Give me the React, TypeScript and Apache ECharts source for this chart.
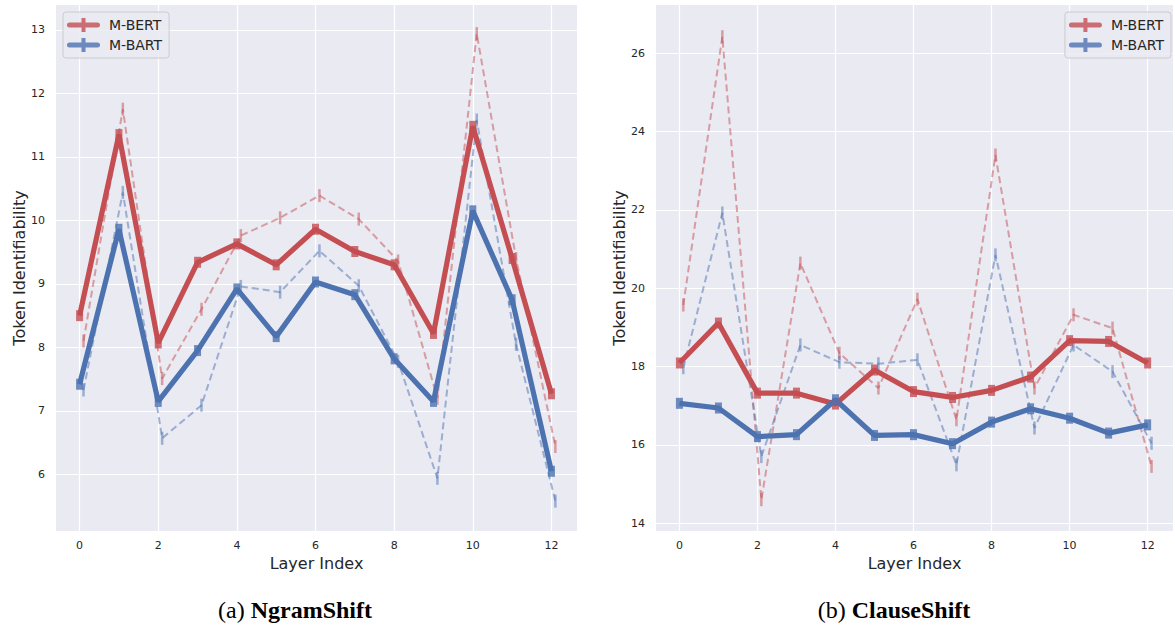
import React, { useEffect, useRef } from "react";
import * as echarts from "echarts";

// ---- data ----
const LAYERS = [0, 1, 2, 3, 4, 5, 6, 7, 8, 9, 10, 11, 12];
const X_TICKS = [0, 2, 4, 6, 8, 10, 12];
const NGRAM_Y_TICKS = [6, 7, 8, 9, 10, 11, 12, 13];
const CLAUSE_Y_TICKS = [14, 16, 18, 20, 22, 24, 26];
const DASH_OFFSET = 0.1;

// (a) NgramShift
const NGRAM_BERT = [8.5, 11.35, 8.07, 9.34, 9.63, 9.3, 9.86, 9.51, 9.3, 8.22, 11.48, 9.4, 7.27];
const NGRAM_BART = [7.42, 9.86, 7.15, 7.95, 8.92, 8.17, 9.03, 8.83, 7.82, 7.15, 10.15, 8.75, 6.05];
const NGRAM_BERT_DASH = [8.1, 11.75, 7.51, 8.6, 9.76, 10.04, 10.39, 10.02, 9.36, 7.2, 12.94, 9.4, 6.44];
const NGRAM_BART_DASH = [7.33, 10.44, 6.57, 7.09, 8.96, 8.87, 9.52, 8.97, 7.78, 5.94, 11.58, 8.05, 5.58];

// (b) ClauseShift
const CLAUSE_BERT = [18.09, 19.11, 17.32, 17.32, 17.04, 17.91, 17.36, 17.21, 17.39, 17.73, 18.66, 18.64, 18.09];
const CLAUSE_BART = [17.06, 16.94, 16.21, 16.26, 17.15, 16.24, 16.26, 16.03, 16.58, 16.92, 16.68, 16.3, 16.51];
const CLAUSE_BERT_DASH = [19.57, 26.42, 14.6, 20.64, 18.34, 17.45, 19.72, 16.64, 23.4, 17.45, 19.32, 18.98, 15.45];
const CLAUSE_BART_DASH = [17.97, 21.92, 15.7, 18.55, 18.11, 18.07, 18.17, 15.49, 20.85, 16.43, 18.55, 17.87, 16.04];

const RED = "#C44E52";
const BLUE = "#4C72B0";
const TEXT = "#262626";
const FONT = "DejaVu Sans";

function pts(vals: number[], off: number) {
  return LAYERS.map((l, i) => [l + off, vals[i]]);
}

function solidSeries(name: string, color: string, vals: number[], gi: number) {
  return {
    type: "line",
    name,
    xAxisIndex: gi,
    yAxisIndex: gi,
    data: pts(vals, 0),
    z: 4,
    symbol: "rect",
    symbolSize: [7, 11],
    itemStyle: { color, opacity: 0.8 },
    lineStyle: { color, width: 5.2 },
    emphasis: { disabled: true },
  };
}

function dashSeries(name: string, color: string, vals: number[], gi: number, grid?: any) {
  const s: any = {
    type: "line",
    name,
    xAxisIndex: gi,
    yAxisIndex: gi,
    data: pts(vals, DASH_OFFSET),
    z: 3,
    symbol: "rect",
    symbolSize: [2.5, 13],
    itemStyle: { color, opacity: 0.5 },
    lineStyle: { color, width: 2, type: [7, 4], opacity: 0.5 },
    emphasis: { disabled: true },
  };
  if (grid) {
    s.markLine = {
      silent: true,
      z: 1,
      symbol: ["none", "none"],
      label: { show: false },
      lineStyle: { color: "#ffffff", width: 1.2, type: "solid", opacity: 1 },
      emphasis: { disabled: true },
      data: [
        ...X_TICKS.map((v) => ({ xAxis: v })),
        ...grid.map((v: number) => ({ yAxis: v })),
      ],
    };
  }
  return s;
}

function xAxisCfg(gi: number) {
  return {
    type: "value",
    gridIndex: gi,
    min: -0.6,
    max: 12.65,
    axisLine: { show: false },
    axisTick: { show: false },
    splitLine: { show: false },
    axisLabel: {
      customValues: X_TICKS,
      color: TEXT,
      fontSize: 11,
      fontFamily: FONT,
      margin: 9,
    },
    name: "Layer Index",
    nameLocation: "middle",
    nameGap: 23,
    nameTextStyle: { color: TEXT, fontSize: 16, fontFamily: FONT },
  };
}

function yAxisCfg(gi: number, min: number, max: number, ticks: number[]) {
  return {
    type: "value",
    gridIndex: gi,
    min,
    max,
    axisLine: { show: false },
    axisTick: { show: false },
    splitLine: { show: false },
    axisLabel: {
      customValues: ticks,
      color: TEXT,
      fontSize: 11,
      fontFamily: FONT,
      margin: 11,
    },
    name: "Token Identifiability",
    nameLocation: "middle",
    nameGap: 29,
    nameTextStyle: { color: TEXT, fontSize: 16, fontFamily: FONT },
  };
}

const LEGEND_ICON = "path://M2.5,4.5L30.5,4.5A2.5,2.5,0,0,1,30.5,9.5L2.5,9.5A2.5,2.5,0,0,1,2.5,4.5Z M14.5,0L18.5,0L18.5,14L14.5,14Z";

function legendCfg(pos: any) {
  return {
    ...pos,
    orient: "vertical",
    align: "left",
    data: ["M-BERT", "M-BART"],
    icon: LEGEND_ICON,
    itemWidth: 33,
    itemHeight: 14,
    itemGap: 6,
    padding: [6, 7, 6, 4],
    backgroundColor: "rgba(234,234,242,0.85)",
    borderColor: "#cccccc",
    borderWidth: 1,
    borderRadius: 3,
    textStyle: { color: TEXT, fontSize: 14, fontFamily: FONT, padding: [0, 0, 0, 4] },
    selectedMode: false,
  };
}

function caption(x: number, label: string, bold: string) {
  return {
    type: "text",
    x,
    y: 610,
    style: {
      text: `{n|${label} }{b|${bold}}`,
      align: "center",
      verticalAlign: "middle",
      fill: "#000",
      rich: {
        n: { fontFamily: "Liberation Serif", fontSize: 24, fontWeight: "normal", fill: "#000" },
        b: { fontFamily: "Liberation Serif", fontSize: 24, fontWeight: "bold", fill: "#000" },
      },
    },
  };
}

export default function App() {
  const ref = useRef<HTMLDivElement>(null);
  useEffect(() => {
    if (!ref.current) return;
    const chart = echarts.init(ref.current, undefined, { renderer: "svg" });
    chart.setOption({
      animation: false,
      backgroundColor: "#ffffff",
      grid: [
        { left: 56, top: 5, width: 521, height: 526, show: true, backgroundColor: "#EAEAF2", borderWidth: 0 },
        { left: 656, top: 5, width: 517, height: 526, show: true, backgroundColor: "#EAEAF2", borderWidth: 0 },
      ],
      xAxis: [xAxisCfg(0), xAxisCfg(1)],
      yAxis: [
        yAxisCfg(0, 5.11, 13.39, NGRAM_Y_TICKS),
        yAxisCfg(1, 13.8, 27.23, CLAUSE_Y_TICKS),
      ],
      legend: [legendCfg({ left: 63, top: 12 }), legendCfg({ right: 4, top: 12 })],
      series: [
        dashSeries("M-BERT dashed", RED, NGRAM_BERT_DASH, 0, NGRAM_Y_TICKS),
        dashSeries("M-BART dashed", BLUE, NGRAM_BART_DASH, 0),
        solidSeries("M-BERT", RED, NGRAM_BERT, 0),
        solidSeries("M-BART", BLUE, NGRAM_BART, 0),
        dashSeries("M-BERT dashed", RED, CLAUSE_BERT_DASH, 1, CLAUSE_Y_TICKS),
        dashSeries("M-BART dashed", BLUE, CLAUSE_BART_DASH, 1),
        solidSeries("M-BERT", RED, CLAUSE_BERT, 1),
        solidSeries("M-BART", BLUE, CLAUSE_BART, 1),
      ],
      graphic: [caption(295, "(a)", "NgramShift"), caption(894, "(b)", "ClauseShift")],
    });
    return () => chart.dispose();
  }, []);
  return (
    <div
      ref={ref}
      style={{ position: "absolute", left: 0, top: 0, width: 1175, height: 628 }}
    />
  );
}
